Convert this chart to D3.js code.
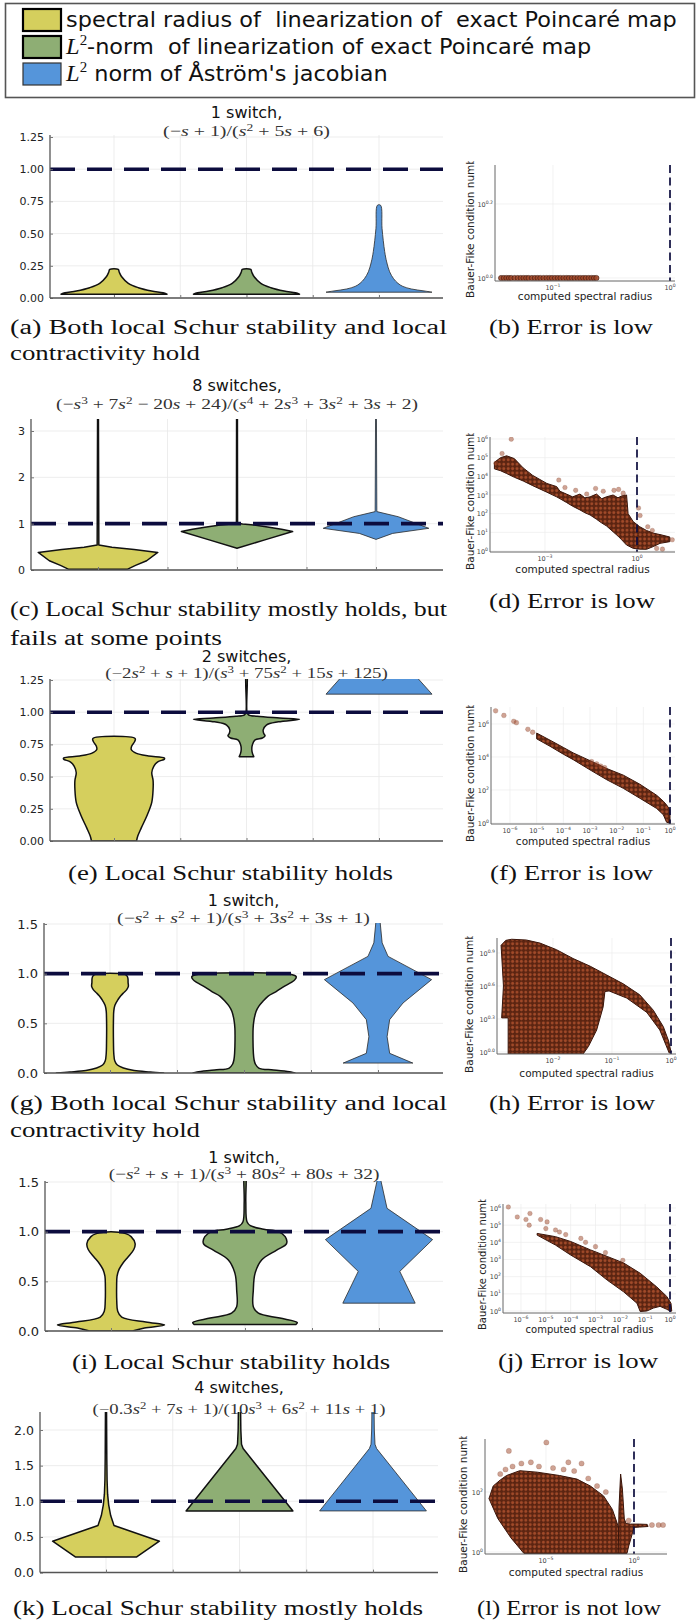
<!DOCTYPE html>
<html><head><meta charset="utf-8">
<script src="https://cdn.jsdelivr.net/npm/d3@7"></script>
<style>body{margin:0;background:#fff} svg{display:block} text{white-space:pre}</style>
</head><body>
<svg id="c" width="699" height="1622"></svg>
<script>
// ================= DATA =================
const seriesNames = ["spectral radius of  linearization of  exact Poincaré map",
                     "L^2-norm  of linearization of exact Poincaré map",
                     "L^2 norm of Åström's jacobian"];
const seriesColors = ["#d5cf5d", "#8eae74", "#5595da"];
const categories = [1, 2, 3];

const titles = ["1 switch,", "8 switches,", "2 switches,", "1 switch,", "1 switch,", "4 switches,"];
const formulas = ["(−s + 1)/(s^2 + 5s + 6)",
                  "(−s^3 + 7s^2 − 20s + 24)/(s^4 + 2s^3 + 3s^2 + 3s + 2)",
                  "(−2s^2 + s + 1)/(s^3 + 75s^2 + 15s + 125)",
                  "(−s^2 + s^2 + 1)/(s^3 + 3s^2 + 3s + 1)",
                  "(−s^2 + s + 1)/(s^3 + 80s^2 + 80s + 32)",
                  "(−0.3s^2 + 7s + 1)/(10s^3 + 6s^2 + 11s + 1)"];
const captionsLeft = [["(a) Both local Schur stability and local", "contractivity hold"],
                      ["(c) Local Schur stability mostly holds, but", "fails at some points"],
                      ["(e) Local Schur stability holds"],
                      ["(g) Both local Schur stability and local", "contractivity hold"],
                      ["(i) Local Schur stability holds"],
                      ["(k) Local Schur stability mostly holds"]];
const captionsRight = ["(b) Error is low", "(d) Error is low", "(f) Error is low",
                       "(h) Error is low", "(j) Error is low", "(l) Error is not low"];

// y tick values of violin panels
const yTicksA = [0, 0.25, 0.5, 0.75, 1.0, 1.25];
const yTicksC = [0, 1, 2, 3];
const yTicksE = [0, 0.25, 0.5, 0.75, 1.0, 1.25];
const yTicksG = [0, 0.5, 1.0, 1.5];
const yTicksI = [0, 0.5, 1.0, 1.5];
const yTicksK = [0, 0.5, 1.0, 1.5, 2.0];

// violin profiles: [value, half width (category units)]
const aYellow = [[0.03,0.40],[0.04,0.37],[0.054,0.284],[0.08,0.184],[0.114,0.108],[0.165,0.058],[0.20,0.04],[0.222,0.032]];
const aGreen  = [[0.03,0.40],[0.04,0.37],[0.054,0.284],[0.08,0.184],[0.114,0.108],[0.165,0.058],[0.20,0.04],[0.222,0.032]];
const aBlue   = [[0.045,0.40],[0.055,0.34],[0.07,0.244],[0.09,0.18],[0.114,0.143],[0.15,0.11],[0.204,0.08],[0.28,0.058],[0.36,0.043],[0.54,0.023],[0.72,0.012]];

const cYellow = [[0.015,0.21],[0.10,0.27],[0.20,0.35],[0.38,0.43],[0.44,0.26],[0.49,0.10],[0.54,0.006],[3.4,0.003]];
const cGreen  = [[0.47,0.0],[0.65,0.2],[0.83,0.40],[0.88,0.32],[0.93,0.22],[0.97,0.12],[0.995,0.04],[1.01,0.004],[3.4,0.003]];
const cBlue   = [[0.66,0.0],[0.79,0.12],[0.9,0.38],[1.15,0.16],[1.26,0.006],[3.4,0.003]];

const eYellow = [[0.0,0.17],[0.04,0.18],[0.1,0.205],[0.2,0.25],[0.3,0.285],[0.4,0.295],[0.47,0.295],[0.53,0.285],[0.58,0.3],[0.615,0.33],[0.635,0.38],[0.645,0.38],[0.66,0.26],[0.68,0.17],[0.71,0.13],[0.74,0.135],[0.77,0.155],[0.795,0.16]];
const eGreen  = [[0.655,0.055],[0.68,0.045],[0.71,0.04],[0.75,0.045],[0.785,0.065],[0.80,0.12],[0.816,0.14],[0.835,0.13],[0.863,0.126],[0.90,0.15],[0.925,0.24],[0.945,0.40],[0.955,0.25],[0.968,0.08],[0.98,0.015],[1.0,0.004],[1.3,0.003]];
const eBlue   = [[1.14,0.40],[1.6,0.0]];

const gYellow = [[0.0,0.40],[0.01,0.30],[0.025,0.18],[0.05,0.10],[0.08,0.055],[0.12,0.036],[0.2,0.028],[0.3,0.026],[0.45,0.025],[0.55,0.026],[0.62,0.028],[0.68,0.036],[0.74,0.06],[0.78,0.082],[0.805,0.10],[0.84,0.125],[0.872,0.137],[0.91,0.135],[0.95,0.134],[0.975,0.128],[0.993,0.11]];
const gGreen  = [[0.0,0.38],[0.01,0.35],[0.03,0.22],[0.05,0.11],[0.09,0.085],[0.134,0.075],[0.2,0.07],[0.335,0.067],[0.45,0.068],[0.537,0.075],[0.62,0.09],[0.671,0.11],[0.72,0.14],[0.772,0.178],[0.82,0.24],[0.872,0.3],[0.91,0.35],[0.94,0.38],[0.97,0.39],[0.99,0.36]];
const gBlue   = [[0.10,0.26],[0.198,0.087],[0.366,0.068],[0.537,0.087],[0.705,0.187],[0.94,0.40],[1.174,0.075],[1.31,0.031],[1.6,0.01]];

const iYellow = [[0.0,0.16],[0.03,0.25],[0.06,0.40],[0.09,0.26],[0.14,0.08],[0.2,0.05],[0.3,0.043],[0.45,0.042],[0.55,0.045],[0.62,0.06],[0.68,0.087],[0.75,0.13],[0.82,0.17],[0.88,0.18],[0.95,0.15],[0.98,0.11],[0.995,0.056]];
const iGreen  = [[0.065,0.38],[0.085,0.39],[0.13,0.26],[0.18,0.1],[0.245,0.062],[0.41,0.062],[0.58,0.075],[0.715,0.124],[0.815,0.236],[0.88,0.31],[0.95,0.30],[1.0,0.25],[1.025,0.14],[1.06,0.04],[1.1,0.015],[1.3,0.006],[1.6,0.004]];
const iBlue   = [[0.28,0.27],[0.6,0.155],[0.92,0.40],[1.235,0.06],[1.6,0.0]];

const kYellow = [[0.22,0.23],[0.44,0.40],[0.66,0.06],[0.8,0.035],[0.95,0.02],[1.1,0.012],[1.3,0.008],[1.6,0.006],[2.3,0.004]];
const kGreen  = [[0.865,0.40],[1.74,0.027],[1.8,0.015],[2.0,0.01],[2.3,0.008]];
const kBlue   = [[0.865,0.40],[1.74,0.027],[1.8,0.015],[2.0,0.01],[2.3,0.008]];

// scatter data: (b) points as [spectral radius, condition number];
// the rest as log10 exponents: [log10 spectral radius, log10 condition number]
const bPoints = [[0.036,1],[0.038,1],[0.040,1],[0.042,1],[0.044,1],[0.047,1],[0.050,1],[0.053,1],[0.056,1],[0.059,1],[0.062,1],[0.066,1],[0.070,1],[0.074,1],[0.078,1],[0.083,1],[0.088,1],[0.093,1],[0.098,1],[0.104,1],[0.110,1],[0.116,1],[0.123,1],[0.130,1],[0.137,1],[0.145,1],[0.153,1],[0.162,1],[0.171,1],[0.181,1],[0.191,1],[0.202,1],[0.213,1],[0.224,1],[0.235,1]];

// dense bands: [log10 x, log10 y low, log10 y high]
const dBand = [[-4.65,4.40,4.75],[-4.45,4.30,5.00],[-4.25,4.15,5.10],[-4.0,3.95,4.95],[-3.71,3.75,4.45],[-3.4,3.5,4.05],[-2.94,3.15,3.62],[-2.62,2.90,3.45],[-2.51,2.80,3.2],[-2.3,2.6,3.05],[-2.1,2.40,2.9],[-1.86,2.2,3.05],[-1.7,2.05,2.85],[-1.53,1.93,2.9],[-1.32,1.70,3.05],[-1.15,1.5,2.8],[-1.0,1.35,2.9],[-0.78,1.03,3.0],[-0.62,0.8,2.85],[-0.5,0.6,2.95],[-0.34,0.32,3.0],[-0.29,0.28,2.0],[-0.12,0.14,1.57],[0.09,0.10,1.3],[0.31,0.09,1.1],[0.55,0.25,0.95],[0.75,0.41,0.88],[1.07,0.50,0.75]];
const dOutliers = [[-4.1,5.99],[-4.4,5.22],[-4.6,4.7],[-2.55,3.8],[-2.35,3.4],[-2.0,3.25],[-1.64,3.05],[-1.35,3.35],[-1.1,3.2],[-0.75,3.25],[-0.6,3.3],[-0.45,3.1],[0.05,2.3],[0.1,1.9],[0.64,0.14],[0.83,0.1],[1.15,0.6],[0.35,1.3],[0.5,1.1]];

const fBand = [[-5.0,5.1,5.45],[-4.5,4.65,5.02],[-4.0,4.17,4.58],[-3.63,3.84,4.25],[-3.0,3.22,3.78],[-2.37,2.62,3.3],[-1.75,2.1,2.9],[-1.13,1.5,2.35],[-0.5,0.88,1.68],[-0.25,0.5,1.32],[-0.13,0.05,1.1],[0.0,-0.03,0.8]];
const fOutliers = [[-6.54,6.8],[-6.23,6.52],[-5.86,6.16],[-5.76,6.08],[-5.33,5.68],[-5.15,5.5],[-2.94,3.72],[-2.75,3.58],[-2.6,3.45],[-2.45,3.35]];

const hRegion = [[-2.88,0.97],[-2.80,1.015],[-2.70,1.025],[-2.45,1.018],[-2.22,0.99],[-1.94,0.93],[-1.66,0.85],[-1.37,0.78],[-1.09,0.70],[-0.81,0.62],[-0.53,0.52],[-0.30,0.38],[-0.13,0.23],[-0.04,0.10],[0.0,0.0],[-0.03,-0.01],[-0.19,0.2],[-0.41,0.36],[-0.75,0.49],[-1.05,0.555],[-1.12,0.55],[-1.15,0.41],[-1.26,0.20],[-1.40,0.05],[-1.49,-0.018],[-2.76,-0.018],[-2.76,0.31],[-2.87,0.31],[-2.84,0.6]];

const jRegion = [[-5.35,4.52],[-4.61,4.33],[-4.0,4.05],[-3.2,3.56],[-2.53,3.18],[-1.87,2.8],[-1.2,2.2],[-0.53,1.4],[-0.13,0.85],[0.04,0.45],[0.07,0.0],[0.04,-0.03],[-0.13,0.1],[-0.4,0.27],[-0.67,0.17],[-0.93,0.0],[-1.2,-0.03],[-1.33,0.45],[-1.87,1.12],[-2.53,1.8],[-3.2,2.58],[-4.0,3.26],[-4.61,3.84],[-5.35,4.42]];
const jOutliers = [[-6.51,6.06],[-6.15,5.48],[-5.8,5.33],[-5.64,5.68],[-5.67,5.0],[-5.21,5.33],[-4.95,5.19],[-5.0,4.8],[-4.61,4.72],[-4.45,4.6],[-4.2,4.45],[-3.59,4.23],[-3.4,4.0],[-3.0,3.75],[-2.6,3.4],[-1.9,2.95]];

const lRegion = [[-8.24,1.78],[-8.0,2.2],[-7.6,2.4],[-7.24,2.55],[-6.49,2.71],[-5.49,2.66],[-4.23,2.55],[-3.24,2.43],[-2.48,2.2],[-1.73,1.87],[-1.23,1.42],[-0.98,1.0],[-0.74,0.56],[-0.61,-0.05],[-6.25,-0.05],[-6.99,0.47],[-7.74,1.12]];
const lSpike = [[-0.9,-0.05],[-0.85,1.5],[-0.76,2.6],[-0.66,2.1],[-0.55,1.1],[-0.45,0.95],[-0.2,0.93],[0.3,0.93],[0.75,0.92],[0.8,0.85],[0.3,0.83],[0.0,0.82],[-0.15,0.5],[-0.3,0.2],[-0.4,-0.05]];
const lOutliers = [[-7.11,3.37],[-4.98,3.65],[-5.86,2.99],[-3.73,2.99],[-2.98,2.95],[-7.6,2.6],[-7.3,2.75],[-6.9,2.85],[-6.4,2.95],[-5.4,2.85],[-4.6,2.8],[-4.0,2.75],[-3.4,2.7],[-2.6,2.45],[-2.1,2.2],[-1.6,2.0],[-0.3,1.05],[1.02,0.9],[1.4,0.9],[1.65,0.9]];

// ================= DRAWING =================
const svg = d3.select("#c");
const defs = svg.append("defs");
const pat = defs.append("pattern").attr("id", "dots").attr("width", 4.4).attr("height", 4.4)
  .attr("patternUnits", "userSpaceOnUse");
pat.append("rect").attr("width", 4.4).attr("height", 4.4).attr("fill", "#5e230e");
pat.append("circle").attr("cx", 2.2).attr("cy", 2.2).attr("r", 1.9)
  .attr("fill", "#a24a29").attr("stroke", "#3a150a").attr("stroke-width", 0.5);

const SANS = "'DejaVu Sans', Verdana, sans-serif";
const SERIF = "'Liberation Serif', 'Times New Roman', serif";
const NAVY = "#0c0c3e";

function addMath(text, str, size) {
  const re = /\^(\d+)|([a-zA-Z])|([^a-zA-Z^]+)/g;
  let m, raised = false;
  while ((m = re.exec(str))) {
    const t = text.append("tspan");
    if (m[1]) { t.text(m[1]).attr("font-size", size * 0.68).attr("dy", -size * 0.36); raised = true; continue; }
    if (raised) { t.attr("dy", size * 0.36); raised = false; }
    if (m[2]) t.text(m[2]).attr("font-style", "italic");
    else t.text(m[3]);
  }
}

function fitTextX(sel, cx, target) {
  const w = sel.node().getBBox().width;
  const k = target / w;
  sel.attr("transform", `translate(${cx},0) scale(${k},1) translate(${-cx},0)`);
}

function caption(str, x0, baseY, width) {
  svg.append("text").attr("x", x0).attr("y", baseY).attr("font-family", SERIF)
    .attr("font-size", 20.5).attr("fill", "#111")
    .attr("textLength", width).attr("lengthAdjust", "spacingAndGlyphs").text(str);
}

// ---------- legend ----------
const legendY = [20, 47, 74];
const lg = svg.append("g");
lg.append("rect").attr("x", 5.5).attr("y", 3.5).attr("width", 689).attr("height", 94)
  .attr("fill", "#fff").attr("stroke", "#555").attr("stroke-width", 1.6);
const legTexts = lg.append("g");
seriesNames.forEach((name, i) => {
  lg.append("rect").attr("x", 23).attr("y", legendY[i] - 11).attr("width", 38).attr("height", 22)
    .attr("fill", seriesColors[i]).attr("stroke", i < 2 ? "#000" : "#333").attr("stroke-width", i < 2 ? 2.2 : 1.2);
  const t = legTexts.append("text").attr("x", 0).attr("y", legendY[i] + 7)
    .attr("font-family", SANS).attr("font-size", 21).attr("fill", "#111");
  if (name.startsWith("L^2")) {
    t.append("tspan").attr("font-family", SERIF).attr("font-style", "italic").attr("font-size", 23).text("L");
    t.append("tspan").attr("font-family", SERIF).attr("font-size", 14).attr("dy", -9).text("2");
    t.append("tspan").attr("dy", 9).text(name.slice(3));
  } else t.text(name);
});
{
  const w0 = legTexts.select("text").node().getBBox().width;
  const sx = 611 / w0;
  legTexts.attr("transform", `translate(66,0) scale(${sx},1)`);
}

// ---------- violin panels ----------
const violinLayout = [
  {id: "a", left: 50, right: 443, c1: 114, c3: 379, bottom: 298, tv: 1.25, tpx: 137, top: 135, ticks: yTicksA, fmt: d3.format(".2f"), fs: 11, titleY: 118, formY: 136, formW: 167,
   vio: [[aYellow, 1], [aGreen, 1], [aBlue, 1]], caps: [[10, 334, 437], [10, 360, 190]], right2: [489, 334, 164]},
  {id: "c", left: 31, right: 443, c1: 98, c3: 376, bottom: 570, tv: 3, tpx: 431, top: 419, ticks: yTicksC, fmt: d3.format("d"), fs: 11, titleY: 391, formY: 409, formW: 362,
   vio: [[cYellow, 0], [cGreen, 0], [cBlue, 0]], caps: [[10, 616, 437], [10, 645, 212]], right2: [489, 608, 166]},
  {id: "e", left: 50, right: 443, c1: 114, c3: 379, bottom: 841, tv: 1.25, tpx: 680, top: 679, ticks: yTicksE, fmt: d3.format(".2f"), fs: 11, titleY: 662, formY: 678, formW: 283,
   vio: [[eYellow, 1], [eGreen, 1], [eBlue, 0]], caps: [[68, 880, 325]], right2: [490, 880, 163]},
  {id: "g", left: 44, right: 443, c1: 110, c3: 378, bottom: 1073, tv: 1.5, tpx: 924, top: 923, ticks: yTicksG, fmt: d3.format(".1f"), fs: 13, titleY: 906, formY: 923, formW: 253,
   vio: [[gYellow, 1], [gGreen, 1], [gBlue, 0]], caps: [[10, 1110, 437], [10, 1137, 190]], right2: [489, 1110, 166]},
  {id: "i", left: 45, right: 443, c1: 111, c3: 379, bottom: 1331, tv: 1.5, tpx: 1182, top: 1181, ticks: yTicksI, fmt: d3.format(".1f"), fs: 13, titleY: 1163, formY: 1179, formW: 271,
   vio: [[iYellow, 1], [iGreen, 1], [iBlue, 0]], caps: [[72, 1369, 318]], right2: [498, 1368, 160]},
  {id: "k", left: 40, right: 438, c1: 106, c3: 373, bottom: 1572.6, tv: 2.0, tpx: 1430, top: 1412, ticks: yTicksK, fmt: d3.format(".1f"), fs: 12.5, titleY: 1393, formY: 1414, formW: 293,
   vio: [[kYellow, 0], [kGreen, 0], [kBlue, 0]], caps: [[13, 1615, 410]], right2: [477, 1615, 184]}
];

violinLayout.forEach((p, pi) => {
  const g = svg.append("g");
  const x = d3.scaleLinear().domain([1, 3]).range([p.c1, p.c3]);
  const y = d3.scaleLinear().domain([0, p.tv]).range([p.bottom, p.tpx]);
  const cid = "clip" + p.id;
  defs.append("clipPath").attr("id", cid).append("rect")
    .attr("x", p.left).attr("y", p.top).attr("width", p.right - p.left).attr("height", p.bottom - p.top);
  const xg = [1, 1.5, 2, 2.5, 3];
  g.selectAll(null).data(xg).enter().append("line")
    .attr("x1", d => x(d)).attr("x2", d => x(d)).attr("y1", p.top).attr("y2", p.bottom)
    .attr("stroke", "#e8e8e8").attr("stroke-width", 0.8);
  g.selectAll(null).data(p.ticks).enter().append("line")
    .attr("x1", p.left).attr("x2", p.right).attr("y1", d => y(d)).attr("y2", d => y(d))
    .attr("stroke", "#e8e8e8").attr("stroke-width", 0.8);
  const vg = g.append("g").attr("clip-path", `url(#${cid})`);
  p.vio.forEach(([data, smooth], i) => {
    const cx = categories[i];
    const rightSide = data.map(d => [x(cx + d[1]), y(d[0])]);
    const leftSide = data.slice().reverse().map(d => [x(cx - d[1]), y(d[0])]);
    const line = d3.line().curve(smooth ? d3.curveCatmullRom.alpha(0.5) : d3.curveLinear);
    vg.append("path").attr("d", line(rightSide.concat(leftSide)) + "Z")
      .attr("fill", seriesColors[i])
      .attr("stroke", i < 2 ? "#111" : "#2a2a2a").attr("stroke-width", i < 2 ? 1.5 : 0.8)
      .attr("stroke-linejoin", "round");
  });
  // reference line
  g.append("line").attr("x1", p.left).attr("x2", p.right).attr("y1", y(1)).attr("y2", y(1))
    .attr("stroke", NAVY).attr("stroke-width", 3.6).attr("stroke-dasharray", "25,12");
  // axes
  const ya = g.append("g").attr("transform", `translate(${p.left},0)`)
    .call(d3.axisLeft(y).tickValues(p.ticks).tickFormat(p.fmt).tickSizeInner(-3).tickSizeOuter(0).tickPadding(6));
  ya.select(".domain").attr("d", `M0,${p.top}V${p.bottom}`).attr("stroke", "#555").attr("stroke-width", 1.3);
  ya.selectAll(".tick line").attr("stroke", "#777");
  ya.selectAll("text").attr("font-family", SANS).attr("font-size", p.fs).attr("fill", "#222");
  const xa = g.append("g").attr("transform", `translate(0,${p.bottom})`)
    .call(d3.axisBottom(x).tickValues(xg).tickFormat("").tickSizeInner(-3).tickSizeOuter(0));
  xa.select(".domain").attr("d", `M${p.left},0H${p.right}`).attr("stroke", "#555").attr("stroke-width", 1.5);
  xa.selectAll(".tick line").attr("stroke", "#777");
  // title & formula
  const cxm = (p.left + p.right) / 2;
  g.append("text").attr("x", cxm).attr("y", p.titleY).attr("text-anchor", "middle")
    .attr("font-family", SANS).attr("font-size", 16).attr("fill", "#111").text(titles[pi]);
  const ft = g.append("text").attr("x", cxm).attr("y", p.formY).attr("text-anchor", "middle")
    .attr("font-family", SERIF).attr("font-size", 15).attr("fill", "#333");
  addMath(ft, formulas[pi], 15);
  fitTextX(ft, cxm, p.formW);
  // captions
  captionsLeft[pi].forEach((c, ci) => caption(c, p.caps[ci][0], p.caps[ci][1], p.caps[ci][2]));
  caption(captionsRight[pi], p.right2[0], p.right2[1], p.right2[2]);
});

// ---------- scatter panels ----------
const scatterLayout = [
  {id: "b", left: 495, right: 675, top: 165, bottom: 281, xt: [-1, 553, 0, 670], yt: [0, 278, 0.2, 204], xTicks: [-1, 0], yTicks: [0, 0.2], yfmt: ".1f",
   ylx: 474, ylb: 298, xly: 300, lfs: 10.5, points: bPoints, r: 2.6},
  {id: "d", left: 490, right: 675, top: 437, bottom: 552, xt: [-3, 545, 0, 637], yt: [0, 551, 6, 439], xTicks: [-3, 0], yTicks: [0, 1, 2, 3, 4, 5, 6], yfmt: "d",
   ylx: 474, ylb: 570, xly: 573, lfs: 10.5, bands: [dBand], outliers: dOutliers, r: 2.3},
  {id: "f", left: 491, right: 675, top: 707, bottom: 824, xt: [-6, 510, 0, 670], yt: [0, 823, 6, 724], xTicks: [-6, -5, -4, -3, -2, -1, 0], yTicks: [0, 2, 4, 6], yfmt: "d",
   ylx: 474, ylb: 842, xly: 845, lfs: 10.5, bands: [fBand], outliers: fOutliers, r: 2.4},
  {id: "h", left: 497, right: 676, top: 938, bottom: 1054, xt: [-2, 553, 0, 671], yt: [0, 1052, 0.9, 953], xTicks: [-2, -1, 0], yTicks: [0, 0.3, 0.6, 0.9], yfmt: ".1f",
   ylx: 473, ylb: 1073, xly: 1077, lfs: 10.5, regions: [hRegion], r: 2.3},
  {id: "j", left: 503, right: 676, top: 1204, bottom: 1313, xt: [-6, 521, 0, 670], yt: [0, 1311, 6, 1208], xTicks: [-6, -5, -4, -3, -2, -1, 0], yTicks: [0, 1, 2, 3, 4, 5, 6], yfmt: "d",
   ylx: 486, ylb: 1330, xly: 1333, lfs: 10, regions: [jRegion], outliers: jOutliers, r: 2.3},
  {id: "l", left: 485, right: 667, top: 1439, bottom: 1554, xt: [-5, 546, 0, 634], yt: [0, 1552, 2, 1492], xTicks: [-5, 0], yTicks: [0, 2], yfmt: "d",
   ylx: 467, ylb: 1573, xly: 1576, lfs: 10.5, regions: [lRegion, lSpike], outliers: lOutliers, r: 2.6}
];

function expLabel(v, fmt) {
  const s = d3.format(fmt)(v);
  return s.replace("-", "−");
}

scatterLayout.forEach(p => {
  const g = svg.append("g");
  const x = d3.scaleLog().domain([Math.pow(10, p.xt[0]), Math.pow(10, p.xt[2])]).range([p.xt[1], p.xt[3]]);
  const y = d3.scaleLog().domain([Math.pow(10, p.yt[0]), Math.pow(10, p.yt[2])]).range([p.yt[1], p.yt[3]]);
  const cid = "sclip" + p.id;
  defs.append("clipPath").attr("id", cid).append("rect")
    .attr("x", p.left).attr("y", p.top).attr("width", p.right - p.left).attr("height", p.bottom - p.top);
  // grid
  g.selectAll(null).data(p.xTicks).enter().append("line")
    .attr("x1", d => x(Math.pow(10, d))).attr("x2", d => x(Math.pow(10, d))).attr("y1", p.top).attr("y2", p.bottom)
    .attr("stroke", "#ececec").attr("stroke-width", 0.7);
  g.selectAll(null).data(p.yTicks).enter().append("line")
    .attr("x1", p.left).attr("x2", p.right).attr("y1", d => y(Math.pow(10, d))).attr("y2", d => y(Math.pow(10, d)))
    .attr("stroke", "#ececec").attr("stroke-width", 0.7);
  const dg = g.append("g").attr("clip-path", `url(#${cid})`);
  const toPx = d => [x(Math.pow(10, d[0])), y(Math.pow(10, d[1]))];
  const line = d3.line();
  (p.bands || []).forEach(b => {
    const up = b.map(d => toPx([d[0], d[2]]));
    const lo = b.slice().reverse().map(d => toPx([d[0], d[1]]));
    dg.append("path").attr("d", line(up.concat(lo)) + "Z").attr("fill", "url(#dots)")
      .attr("stroke", "#3a150a").attr("stroke-width", 1).attr("stroke-linejoin", "round");
  });
  (p.regions || []).forEach(rg => {
    dg.append("path").attr("d", line(rg.map(toPx)) + "Z").attr("fill", "url(#dots)")
      .attr("stroke", "#3a150a").attr("stroke-width", 1).attr("stroke-linejoin", "round");
  });
  (p.outliers || []).forEach(o => {
    const [px, py] = toPx(o);
    dg.append("circle").attr("cx", px).attr("cy", py).attr("r", p.r)
      .attr("fill", "#a0482a").attr("fill-opacity", 0.5).attr("stroke", "#6a2a12").attr("stroke-opacity", 0.35).attr("stroke-width", 0.5);
  });
  (p.points || []).forEach(o => {
    dg.append("circle").attr("cx", x(o[0])).attr("cy", y(o[1])).attr("r", p.r)
      .attr("fill", "#a0482a").attr("fill-opacity", 0.9).attr("stroke", "#3a150a").attr("stroke-width", 0.6);
  });
  // dashed x=1
  g.append("line").attr("x1", x(1)).attr("x2", x(1)).attr("y1", p.top).attr("y2", p.bottom)
    .attr("stroke", NAVY).attr("stroke-width", 1.7).attr("stroke-dasharray", "8,4.5");
  // spines
  g.append("path").attr("d", `M${p.left},${p.top}V${p.bottom}H${p.right}`)
    .attr("fill", "none").attr("stroke", "#666").attr("stroke-width", 1);
  // tick labels
  p.yTicks.forEach(t => {
    const tt = g.append("text").attr("x", p.left - 2).attr("y", y(Math.pow(10, t)) + 2.5)
      .attr("text-anchor", "end").attr("font-family", SANS).attr("font-size", 6.5).attr("fill", "#444");
    tt.append("tspan").text("10");
    tt.append("tspan").attr("font-size", 4.6).attr("dy", -3).text(expLabel(t, p.yfmt));
  });
  p.xTicks.forEach(t => {
    const tt = g.append("text").attr("x", x(Math.pow(10, t))).attr("y", p.bottom + 9)
      .attr("text-anchor", "middle").attr("font-family", SANS).attr("font-size", 6.5).attr("fill", "#444");
    tt.append("tspan").text("10");
    tt.append("tspan").attr("font-size", 4.6).attr("dy", -3).text(expLabel(t, "d"));
  });
  // axis labels
  g.append("text").attr("x", (p.left + p.right) / 2).attr("y", p.xly).attr("text-anchor", "middle")
    .attr("font-family", SANS).attr("font-size", p.lfs).attr("fill", "#222").text("computed spectral radius");
  // y label, clipped so that only "Bauer-Fike condition num" and a sliver of "b" show
  const probe = svg.append("text").attr("font-family", SANS).attr("font-size", p.lfs).text("Bauer-Fike condition num");
  const wv = probe.node().getComputedTextLength();
  probe.remove();
  const clipTop = p.ylb - wv - 3.5;
  const lcid = "lclip" + p.id;
  defs.append("clipPath").attr("id", lcid).append("rect")
    .attr("x", 0).attr("y", clipTop).attr("width", 699).attr("height", 1622 - clipTop);
  g.append("g").attr("clip-path", `url(#${lcid})`).append("text")
    .attr("transform", `translate(${p.ylx},${p.ylb}) rotate(-90)`)
    .attr("font-family", SANS).attr("font-size", p.lfs).attr("fill", "#222").text("Bauer-Fike condition number");
});
</script>
</body></html>
